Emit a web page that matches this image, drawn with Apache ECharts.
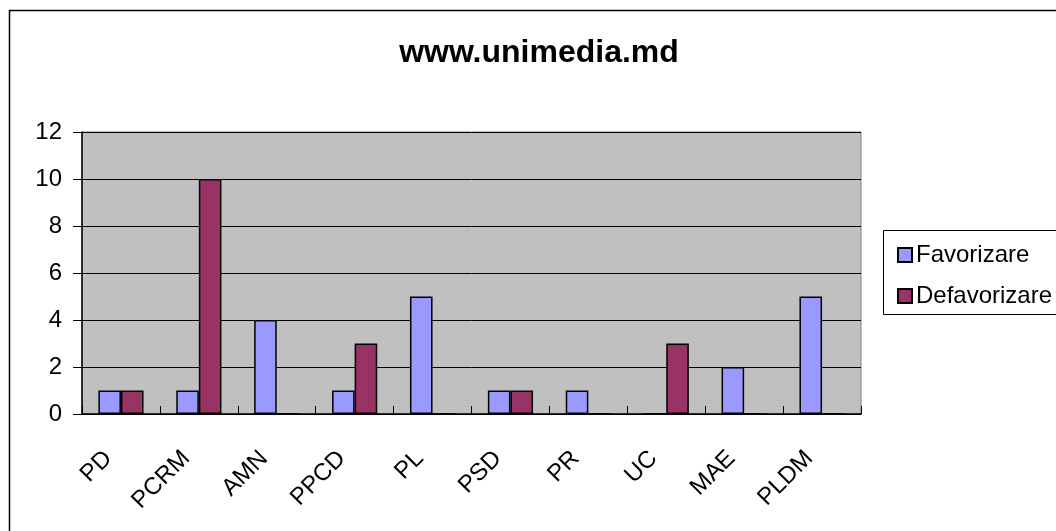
<!DOCTYPE html>
<html>
<head>
<meta charset="utf-8">
<script src="https://cdn.jsdelivr.net/npm/echarts@6/dist/echarts.min.js"></script>
<style>
  html, body { margin: 0; padding: 0; background: #fff; }
  #chart { width: 1056px; height: 531px; }
</style>
</head>
<body>
<div id="chart"></div>
<script>
const categories = ['PD', 'PCRM', 'AMN', 'PPCD', 'PL', 'PSD', 'PR', 'UC', 'MAE', 'PLDM'];
const favorizare = [1, 1, 4, 1, 5, 1, 1, 0, 2, 5];
const defavorizare = [1, 10, 0, 3, 0, 1, 0, 3, 0, 0];
const yTicks = [0, 2, 4, 6, 8, 10, 12];

const font = '"Liberation Sans", Arial, sans-serif';

function bar(dom) {
    const myChart = echarts.init(dom);
    const option = {
        animation: false,
        backgroundColor: '#fff',
        title: {
            text: 'www.unimedia.md',
            left: 534,
            textAlign: 'center',
            top: 32,
            textStyle: { fontFamily: font, fontSize: 32, fontWeight: 'bold', color: '#000' }
        },
        graphic: [
            {
                type: 'rect',
                shape: { x: 9.5, y: 10.5, width: 1100, height: 600 },
                style: { fill: null, stroke: '#000', lineWidth: 1.5 },
                silent: true
            },
            {
                type: 'rect',
                shape: { x: 883.5, y: 230.5, width: 300, height: 84 },
                style: { fill: '#fff', stroke: '#000', lineWidth: 1 },
                silent: true
            }
        ],
        legend: {
            orient: 'vertical',
            left: 892,
            top: 238,
            itemGap: 17,
            itemWidth: 14,
            itemHeight: 14,
            icon: 'rect',
            textStyle: { fontFamily: font, fontSize: 24, color: '#000', padding: [0, 0, 0, -1] },
            data: ['Favorizare', 'Defavorizare']
        },
        grid: {
            left: 82,
            right: 1056 - 861,
            top: 132,
            bottom: 531 - 414,
            show: true,
            backgroundColor: '#C0C0C0',
            borderColor: '#808080',
            borderWidth: 1
        },
        xAxis: {
            type: 'category',
            data: categories,
            axisLine: { lineStyle: { color: '#000', width: 1.5 } },
            axisTick: { show: true, inside: true, length: 8, alignWithLabel: false, lineStyle: { color: '#000' } },
            axisLabel: {
                rotate: 45,
                margin: 28,
                padding: [0, 18, 0, 0],
                fontFamily: font,
                fontSize: 24,
                color: '#000'
            }
        },
        yAxis: {
            type: 'value',
            min: yTicks[0],
            max: yTicks[yTicks.length - 1],
            interval: 2,
            axisLine: { show: true, lineStyle: { color: '#000', width: 1.5 } },
            axisTick: { show: true, length: 9, lineStyle: { color: '#000' } },
            splitLine: { lineStyle: { color: '#000', width: 1 } },
            axisLabel: { fontFamily: font, fontSize: 24, color: '#000', margin: 20 }
        },
        series: [
            {
                name: 'Favorizare',
                type: 'bar',
                data: favorizare,
                barGap: '0%',
                barCategoryGap: '42%',
                itemStyle: { color: '#9999FF', borderColor: '#000', borderWidth: 1.5 }
            },
            {
                name: 'Defavorizare',
                type: 'bar',
                data: defavorizare,
                barGap: '0%',
                barCategoryGap: '42%',
                itemStyle: { color: '#993366', borderColor: '#000', borderWidth: 1.5 }
            }
        ]
    };
    myChart.setOption(option);
    return myChart;
}

bar(document.getElementById('chart'));
</script>
</body>
</html>
